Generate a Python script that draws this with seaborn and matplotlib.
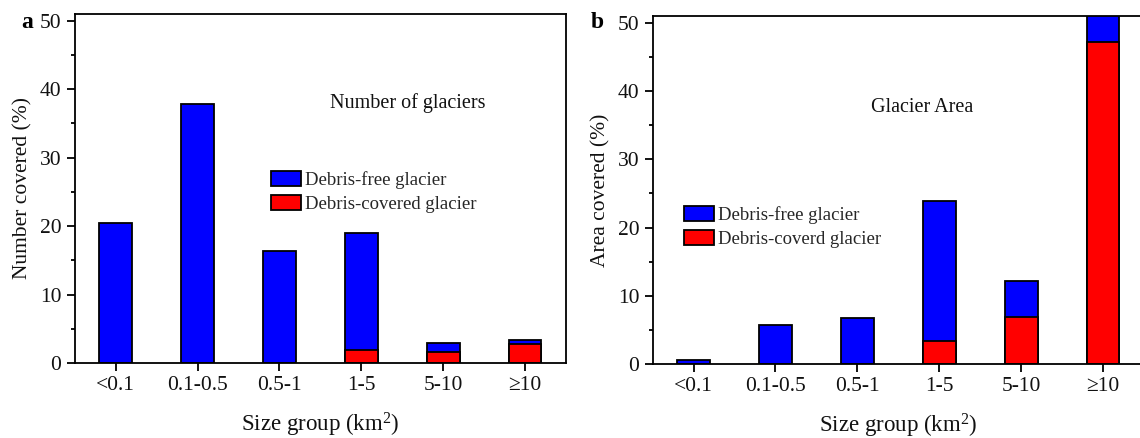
import numpy as np
import pandas as pd
import matplotlib
matplotlib.use("Agg")
import matplotlib.pyplot as plt
import seaborn as sns
from matplotlib.ticker import MultipleLocator

# ---- data ----
categories = ["<0.1", "0.1-0.5", "0.5-1", "1-5", "5-10", "\u226510"]

# panel a: Number of glaciers (%)
num_free = [20.45, 37.78, 16.36, 17.10, 1.37, 0.54]
num_covered = [0.0, 0.0, 0.0, 1.89, 1.61, 2.82]

# panel b: Glacier area (%)
area_free = [0.64, 5.77, 6.74, 20.43, 5.28, 4.00]
area_covered = [0.0, 0.0, 0.0, 3.42, 6.94, 47.26]

BLUE = "#0000FF"
RED = "#FF0000"

sns.set_theme(style="ticks")
plt.rcParams["font.family"] = ["Liberation Serif", "DejaVu Serif"]
plt.rcParams["mathtext.fontset"] = "custom"
plt.rcParams["mathtext.rm"] = "Liberation Serif"
plt.rcParams["mathtext.it"] = "Liberation Serif:italic"
plt.rcParams["axes.linewidth"] = 1.3

fig = plt.figure(figsize=(11.4, 4.38), dpi=100)
ax1 = fig.add_axes([0.0655, 0.1712, 0.431, 0.797])
ax2 = fig.add_axes([0.5725, 0.169, 0.431, 0.7945])


def draw(ax, free, covered, ylabel, lab_covered):
    total = [f + c for f, c in zip(free, covered)]
    df = pd.DataFrame({"cat": categories, "total": total, "covered": covered})
    sns.barplot(data=df, x="cat", y="total", order=categories, color=BLUE,
                saturation=1, edgecolor="black", linewidth=1.3, width=0.4,
                errorbar=None, ax=ax, label="Debris-free glacier")
    sns.barplot(data=df, x="cat", y="covered", order=categories, color=RED,
                saturation=1, edgecolor="black", linewidth=1.3, width=0.4,
                errorbar=None, ax=ax, label=lab_covered)
    ax.set_xlim(-0.5, 5.5)
    ax.set_ylim(0, 51)
    ax.yaxis.set_major_locator(MultipleLocator(10))
    ax.yaxis.set_minor_locator(MultipleLocator(5))
    ax.tick_params(axis="both", which="major", direction="out", length=6,
                   width=1.3, labelsize=15.5, color="black", labelcolor="#111111")
    ax.tick_params(axis="y", which="minor", direction="out", length=3, width=1.3,
                   color="black")
    ax.tick_params(axis="x", which="minor", length=0)
    for s in ax.spines.values():
        s.set_visible(True)
        s.set_color("black")
        s.set_linewidth(1.3)
    ax.set_xlabel("Size group (km$^2$)", fontsize=16.5, labelpad=11, color="#111111")
    ax.set_ylabel(ylabel, fontsize=15.5, labelpad=5, color="#111111")


draw(ax1, num_free, num_covered, "Number covered (%)", "Debris-covered glacier")
draw(ax2, area_free, area_covered, "Area covered (%)", "Debris-coverd glacier")

leg_kw = dict(frameon=False, fontsize=13.5, handlelength=1.6, handleheight=0.8,
              handletextpad=0.2, labelspacing=0.35, borderpad=0, borderaxespad=0,
              loc="upper left")
l1 = ax1.legend(bbox_to_anchor=(271 / 1140, 1 - 171 / 438),
                bbox_transform=fig.transFigure, **leg_kw)
l2 = ax2.legend(bbox_to_anchor=(684 / 1140, 1 - 206 / 438),
                bbox_transform=fig.transFigure, **leg_kw)
for lg in (l1, l2):
    for h in lg.legend_handles:
        h.set_edgecolor("black")
        h.set_linewidth(1.3)

fig.text(407.5 / 1140, 1 - 103 / 438, "Number of glaciers", fontsize=14.5,
         ha="center", va="center", color="#111111")
fig.text(922.5 / 1140, 1 - 107 / 438, "Glacier Area", fontsize=14.5,
         ha="center", va="center", color="#111111")

fig.text(27 / 1140, 1 - 23 / 438, "a", fontsize=17, fontweight="bold",
         ha="center", va="center", color="black")
fig.text(597 / 1140, 1 - 22 / 438, "b", fontsize=17, fontweight="bold",
         ha="center", va="center", color="black")

fig.savefig("out.png", dpi=100)
